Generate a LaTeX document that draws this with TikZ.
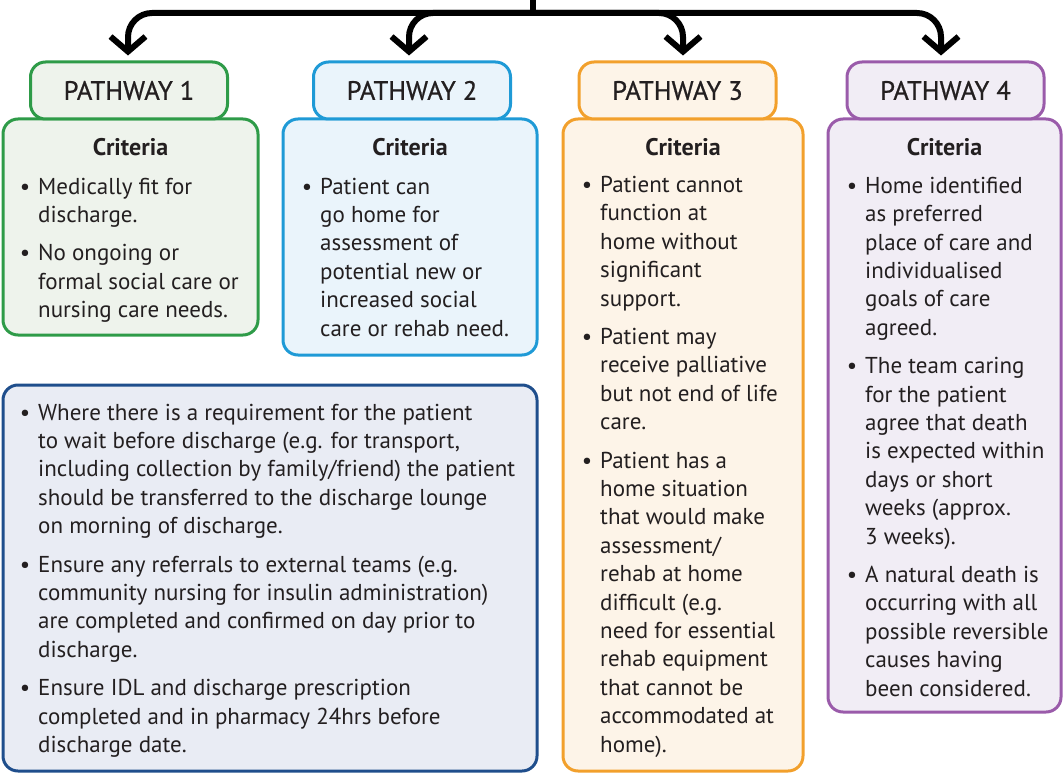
\documentclass[tikz,border=0pt]{standalone}
\usepackage{fontspec}
\setmainfont{PT Sans}
\newfontfamily\hdrfont[FakeBold=0.7]{PT Sans}
\usetikzlibrary{arrows.meta}
\definecolor{txtc}{HTML}{231F20}
\definecolor{gB}{HTML}{2E9B48}\definecolor{gF}{HTML}{EEF3EC}
\definecolor{bB}{HTML}{1F9AD6}\definecolor{bF}{HTML}{EAF4FB}
\definecolor{oB}{HTML}{F2A02C}\definecolor{oF}{HTML}{FDF4E8}
\definecolor{pB}{HTML}{9A5BAA}\definecolor{pF}{HTML}{F1EDF5}
\definecolor{dB}{HTML}{1F4E8C}\definecolor{dF}{HTML}{E9ECF4}
\newcommand\bu{\llap{\textbullet\hspace{8pt}}}
\begin{document}
\begin{tikzpicture}[x=1pt,y=-1pt,
  panel/.style={draw=#1B,fill=#1F,line width=3pt,rounded corners=15pt,inner sep=0pt},
  hdr/.style={panel=#1,minimum width=197pt,minimum height=57pt,font=\hdrfont\fontsize{26.5}{28}\selectfont,text=txtc},
  crit/.style={font=\fontsize{24}{28}\selectfont\bfseries,text=txtc,anchor=base,inner sep=0pt},
  body/.style={font=\fontsize{23}{28.4}\selectfont,text=txtc,align=left,anchor=base west,inner sep=0pt},
  conn/.style={line width=6pt,rounded corners=24pt,-{Straight Barb[length=15pt,width=35pt]}}]
\useasboundingbox (0,0) rectangle (1064,775);
% criteria boxes
\node[panel=g,minimum width=255pt,minimum height=216pt] (c1) at (130.5,227) {};
\node[panel=b,minimum width=254pt,minimum height=236pt] (c2) at (410,237) {};
\node[panel=o,minimum width=240pt,minimum height=652pt] (c3) at (683,445) {};
\node[panel=p,minimum width=233pt,minimum height=593pt] (c4) at (944.5,415.5) {};
\node[panel=d,minimum width=534pt,minimum height=386pt] (lo) at (270,578) {};
% headers
\node[hdr=g] (h1) at (129,90.5) {PATHWAY 1};
\node[hdr=b] (h2) at (412,90.5) {PATHWAY 2};
\node[hdr=o] (h3) at (677.5,90.5) {PATHWAY 3};
\node[hdr=p] (h4) at (945.5,90.5) {PATHWAY 4};
% connectors
\coordinate (top) at (533,0);
\coordinate (j) at (533,13);
\draw[line width=6pt] (top) -- (j);
\draw[conn] (j) -| ([xshift=-1pt,yshift=5pt]h1.north);
\draw[conn] (j) -| ([xshift=-3pt,yshift=5pt]h2.north);
\draw[conn] (j) -| ([xshift=5.5pt,yshift=5pt]h3.north);
\draw[conn] (j) -| ([xshift=-4.5pt,yshift=5pt]h4.north);
% criteria titles
\node[crit] (k1) at (130.5,156) {Criteria};
\node[crit] (k2) at (410,156) {Criteria};
\node[crit] (k3) at (683,156) {Criteria};
\node[crit] (k4) at (944.5,156) {Criteria};
% texts (anchored at the baseline of their last line)
\node[body] (t1) at (38,317.6) {\bu Medically fit for\\discharge.\\[10pt]
\bu No ongoing or\\formal social care or\\nursing care needs.};
\node[body] (t2) at (320,336) {\bu Patient can\\go home for\\assessment of\\potential new or\\increased social\\care or rehab need.};
\node[body] (t3) at (600,752) {\bu Patient cannot\\function at\\home without\\significant\\support.\\[10pt]
\bu Patient may\\receive palliative\\but not end of life\\care.\\[10pt]
\bu Patient has a\\home situation\\that would make\\assessment/\\rehab at home\\difficult (e.g.\\need for essential\\rehab equipment\\that cannot be\\accommodated at\\home).};
\node[body] (t4) at (865,696) {\bu Home identified\\as preferred\\place of care and\\individualised\\goals of care\\agreed.\\[10pt]
\bu The team caring\\for the patient\\agree that death\\is expected within\\days or short\\weeks (approx.\\3 weeks).\\[10pt]
\bu A natural death is\\occurring with all\\possible reversible\\causes having\\been considered.};
\node[body] (t5) at (38,752.4) {\bu Where there is a requirement for the patient\\to wait before discharge (e.g. for transport,\\including collection by family/friend) the patient\\should be transferred to the discharge lounge\\on morning of discharge.\\[10pt]
\bu Ensure any referrals to external teams (e.g.\\community nursing for insulin administration)\\are completed and confirmed on day prior to\\discharge.\\[10pt]
\bu Ensure IDL and discharge prescription\\completed and in pharmacy 24hrs before\\discharge date.};
\end{tikzpicture}
\end{document}
